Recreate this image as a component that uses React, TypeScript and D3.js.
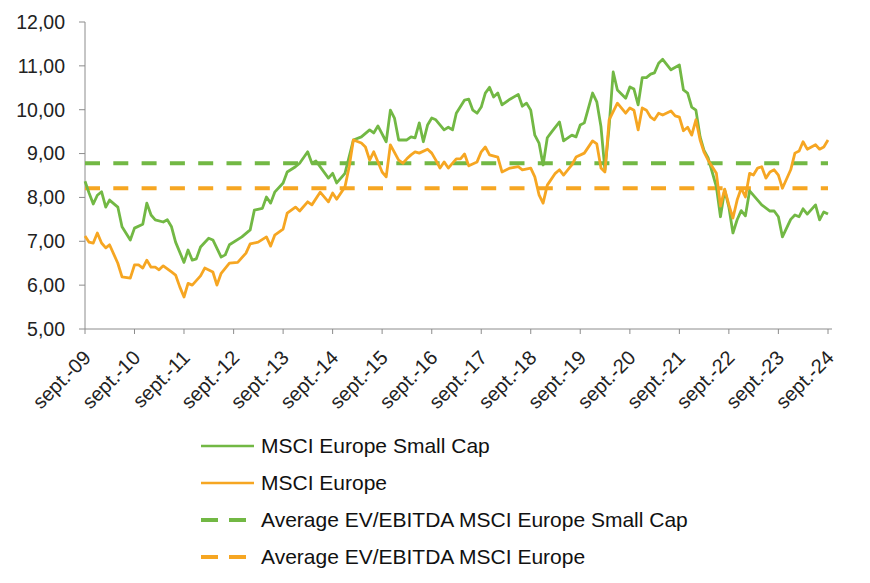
import * as d3 from "d3";

type Point = [string, number];

const smallCap: Point[] = [
  ["2009-09", 8.37], ["2009-10", 8.1], ["2009-11", 7.85], ["2009-12", 8.05],
  ["2010-01", 8.13], ["2010-02", 7.78], ["2010-03", 7.94], ["2010-05", 7.78],
  ["2010-06", 7.33], ["2010-08", 7.03], ["2010-09", 7.3], ["2010-11", 7.39],
  ["2010-12", 7.87], ["2011-01", 7.6], ["2011-02", 7.49], ["2011-04", 7.44],
  ["2011-05", 7.49], ["2011-06", 7.33], ["2011-07", 6.98], ["2011-09", 6.52],
  ["2011-10", 6.8], ["2011-11", 6.57], ["2011-12", 6.6], ["2012-01", 6.87],
  ["2012-03", 7.07], ["2012-04", 7.03], ["2012-06", 6.64], ["2012-07", 6.69],
  ["2012-08", 6.92], ["2012-11", 7.1], ["2013-01", 7.26], ["2013-02", 7.71],
  ["2013-04", 7.75], ["2013-05", 8.01], ["2013-06", 7.87], ["2013-07", 8.12],
  ["2013-09", 8.33], ["2013-10", 8.58], ["2013-12", 8.7], ["2014-01", 8.78],
  ["2014-03", 9.04], ["2014-04", 8.78], ["2014-05", 8.83], ["2014-08", 8.44],
  ["2014-09", 8.55], ["2014-10", 8.33], ["2014-12", 8.55], ["2015-02", 9.31],
  ["2015-04", 9.38], ["2015-06", 9.54], ["2015-07", 9.47], ["2015-08", 9.63],
  ["2015-10", 9.27], ["2015-11", 9.99], ["2015-12", 9.81], ["2016-01", 9.31],
  ["2016-03", 9.31], ["2016-04", 9.38], ["2016-05", 9.36], ["2016-06", 9.7],
  ["2016-07", 9.27], ["2016-08", 9.65], ["2016-09", 9.81], ["2016-10", 9.77],
  ["2016-12", 9.54], ["2017-01", 9.6], ["2017-02", 9.54], ["2017-03", 9.92],
  ["2017-05", 10.22], ["2017-06", 10.24], ["2017-07", 9.99], ["2017-08", 9.92],
  ["2017-09", 10.06], ["2017-10", 10.38], ["2017-11", 10.51], ["2017-12", 10.29],
  ["2018-01", 10.38], ["2018-02", 10.11], ["2018-04", 10.24], ["2018-06", 10.35],
  ["2018-07", 10.08], ["2018-08", 10.15], ["2018-09", 9.99], ["2018-10", 9.42],
  ["2018-11", 9.24], ["2018-12", 8.74], ["2019-01", 9.36], ["2019-02", 9.49],
  ["2019-04", 9.72], ["2019-05", 9.29], ["2019-07", 9.42], ["2019-08", 9.38],
  ["2019-09", 9.65], ["2019-10", 9.7], ["2019-12", 10.38], ["2020-01", 10.18],
  ["2020-02", 9.61], ["2020-03", 8.63], ["2020-04", 9.61], ["2020-05", 10.86],
  ["2020-06", 10.45], ["2020-08", 10.26], ["2020-09", 10.52], ["2020-10", 10.47],
  ["2020-11", 10.11], ["2020-12", 10.73], ["2021-01", 10.73], ["2021-02", 10.81],
  ["2021-03", 10.84], ["2021-04", 11.06], ["2021-05", 11.15], ["2021-07", 10.91],
  ["2021-09", 11.02], ["2021-10", 10.45], ["2021-11", 10.38], ["2021-12", 10.06],
  ["2022-01", 9.99], ["2022-02", 9.38], ["2022-03", 9.08], ["2022-04", 8.9],
  ["2022-05", 8.58], ["2022-06", 8.24], ["2022-07", 7.56], ["2022-08", 8.17],
  ["2022-09", 7.78], ["2022-10", 7.19], ["2022-11", 7.49], ["2022-12", 7.7],
  ["2023-01", 7.58], ["2023-02", 8.15], ["2023-04", 7.94], ["2023-05", 7.83],
  ["2023-07", 7.69], ["2023-08", 7.69], ["2023-09", 7.56], ["2023-10", 7.1],
  ["2023-12", 7.5], ["2024-01", 7.6], ["2024-02", 7.56], ["2024-03", 7.74],
  ["2024-04", 7.62], ["2024-06", 7.83], ["2024-07", 7.49], ["2024-08", 7.67],
  ["2024-09", 7.62],
];

const europe: Point[] = [
  ["2009-09", 7.12], ["2009-10", 6.98], ["2009-11", 6.96], ["2009-12", 7.19],
  ["2010-01", 6.96], ["2010-02", 6.85], ["2010-03", 6.92], ["2010-05", 6.5],
  ["2010-06", 6.19], ["2010-08", 6.16], ["2010-09", 6.46], ["2010-10", 6.46],
  ["2010-11", 6.39], ["2010-12", 6.57], ["2011-01", 6.41], ["2011-02", 6.41],
  ["2011-03", 6.35], ["2011-04", 6.44], ["2011-06", 6.3], ["2011-07", 6.23],
  ["2011-08", 5.96], ["2011-09", 5.73], ["2011-10", 6.04], ["2011-11", 6.0],
  ["2012-01", 6.21], ["2012-02", 6.39], ["2012-04", 6.3], ["2012-05", 6.0],
  ["2012-06", 6.27], ["2012-08", 6.5], ["2012-10", 6.52], ["2012-12", 6.73],
  ["2013-01", 6.94], ["2013-03", 6.98], ["2013-05", 7.1], ["2013-06", 6.89],
  ["2013-07", 7.14], ["2013-09", 7.28], ["2013-10", 7.64], ["2013-12", 7.78],
  ["2014-01", 7.69], ["2014-03", 7.9], ["2014-04", 7.83], ["2014-06", 8.12],
  ["2014-08", 7.9], ["2014-09", 8.1], ["2014-10", 7.96], ["2014-12", 8.24],
  ["2015-01", 8.7], ["2015-02", 9.31], ["2015-04", 9.24], ["2015-05", 9.15],
  ["2015-06", 8.85], ["2015-07", 9.04], ["2015-09", 8.58], ["2015-10", 8.47],
  ["2015-11", 9.2], ["2016-01", 8.85], ["2016-02", 8.78], ["2016-03", 8.88],
  ["2016-04", 8.97], ["2016-05", 9.04], ["2016-06", 9.01], ["2016-08", 9.1],
  ["2016-09", 9.01], ["2016-10", 8.85], ["2016-11", 8.67], ["2016-12", 8.81],
  ["2017-01", 8.67], ["2017-03", 8.88], ["2017-04", 8.88], ["2017-05", 8.99],
  ["2017-06", 8.72], ["2017-08", 8.81], ["2017-09", 9.04], ["2017-10", 9.15],
  ["2017-11", 8.97], ["2018-01", 8.92], ["2018-02", 8.58], ["2018-04", 8.67],
  ["2018-06", 8.7], ["2018-07", 8.63], ["2018-09", 8.67], ["2018-10", 8.47],
  ["2018-11", 8.06], ["2018-12", 7.87], ["2019-01", 8.28], ["2019-03", 8.55],
  ["2019-04", 8.63], ["2019-05", 8.51], ["2019-07", 8.74], ["2019-08", 8.92],
  ["2019-10", 9.01], ["2019-12", 9.29], ["2020-01", 9.22], ["2020-02", 8.67],
  ["2020-03", 8.58], ["2020-04", 9.77], ["2020-06", 10.15], ["2020-08", 9.92],
  ["2020-09", 10.04], ["2020-10", 9.99], ["2020-11", 9.54], ["2020-12", 10.04],
  ["2021-01", 9.99], ["2021-02", 9.83], ["2021-03", 9.77], ["2021-04", 9.92],
  ["2021-05", 9.88], ["2021-07", 9.97], ["2021-08", 9.86], ["2021-09", 9.83],
  ["2021-10", 9.52], ["2021-11", 9.6], ["2021-12", 9.42], ["2022-01", 9.77],
  ["2022-02", 9.31], ["2022-03", 9.04], ["2022-04", 8.85], ["2022-06", 8.55],
  ["2022-07", 7.8], ["2022-08", 8.19], ["2022-09", 7.83], ["2022-10", 7.53],
  ["2022-11", 7.94], ["2022-12", 8.21], ["2023-01", 8.01], ["2023-02", 8.55],
  ["2023-03", 8.51], ["2023-04", 8.67], ["2023-05", 8.7], ["2023-06", 8.44],
  ["2023-07", 8.58], ["2023-08", 8.63], ["2023-09", 8.51], ["2023-10", 8.21],
  ["2023-12", 8.63], ["2024-01", 9.01], ["2024-02", 9.06], ["2024-03", 9.27],
  ["2024-04", 9.1], ["2024-06", 9.2], ["2024-07", 9.1], ["2024-08", 9.15],
  ["2024-09", 9.31],
];

const avgSmallCap = 8.78;
const avgEurope = 8.21;

const yTicks = [5, 6, 7, 8, 9, 10, 11, 12];
const xTickYears = [2009, 2010, 2011, 2012, 2013, 2014, 2015, 2016, 2017, 2018, 2019, 2020, 2021, 2022, 2023, 2024];

const GREEN = "#72b844";
const ORANGE = "#f6a622";
const FONT = "'Liberation Sans', Arial, sans-serif";

const legendItems = [
  { label: "MSCI Europe Small Cap", color: GREEN, dashed: false },
  { label: "MSCI Europe", color: ORANGE, dashed: false },
  { label: "Average EV/EBITDA MSCI Europe Small Cap", color: GREEN, dashed: true },
  { label: "Average EV/EBITDA MSCI Europe", color: ORANGE, dashed: true },
];

export default function App() {
  const width = 870;
  const height = 583;
  const margin = { top: 22, right: 42, bottom: 254, left: 85 };

  const parse = d3.timeParse("%Y-%m");

  const x = d3
    .scaleTime()
    .domain([new Date(2009, 8, 1), new Date(2024, 8, 1)])
    .range([margin.left, width - margin.right]);

  const y = d3
    .scaleLinear()
    .domain([5, 12])
    .range([height - margin.bottom, margin.top]);

  const line = d3
    .line<Point>()
    .x((d) => x(parse(d[0]) as Date))
    .y((d) => y(d[1]));

  const x0 = x.range()[0];
  const x1 = x.range()[1];
  const yBase = y(5);
  const fmt = (v: number) => v.toFixed(2).replace(".", ",");

  return (
    <svg
      width={width}
      height={height}
      style={{ position: "absolute", left: 0, top: 0, background: "#fff" }}
      fontFamily={FONT}
    >
      {/* y axis */}
      <line x1={x0} x2={x0} y1={y(12)} y2={yBase} stroke="#8c8c8c" strokeWidth={1} />
      {yTicks.map((t) => (
        <g key={t}>
          <line x1={x0 - 6} x2={x0} y1={y(t)} y2={y(t)} stroke="#8c8c8c" />
          <text x={x0 - 20} y={y(t)} dy="0.35em" textAnchor="end" fontSize={19.5} fill="#222">
            {fmt(t)}
          </text>
        </g>
      ))}

      {/* x axis */}
      <line x1={x0} x2={x1 + 4} y1={yBase} y2={yBase} stroke="#8c8c8c" />
      {xTickYears.map((yr) => {
        const tx = x(new Date(yr, 8, 1));
        return (
          <g key={yr}>
            <line x1={tx} x2={tx} y1={yBase} y2={yBase + 5} stroke="#8c8c8c" />
            <text
              transform={`translate(${tx + 7},${yBase + 30}) rotate(-45)`}
              textAnchor="end"
              fontSize={20}
              fill="#222"
            >
              {`sept.-${String(yr % 100).padStart(2, "0")}`}
            </text>
          </g>
        );
      })}

      {/* averages */}
      <line x1={x0} x2={x1} y1={y(avgSmallCap)} y2={y(avgSmallCap)} stroke={GREEN} strokeWidth={4} strokeDasharray="15,13.3" />
      <line x1={x0} x2={x1} y1={y(avgEurope)} y2={y(avgEurope)} stroke={ORANGE} strokeWidth={4} strokeDasharray="15,13.3" />

      {/* series */}
      <path d={line(smallCap) ?? undefined} fill="none" stroke={GREEN} strokeWidth={2.8} strokeLinejoin="round" />
      <path d={line(europe) ?? undefined} fill="none" stroke={ORANGE} strokeWidth={2.8} strokeLinejoin="round" />

      {/* legend */}
      {legendItems.map((item, i) => {
        const ly = 446 + i * 37;
        return (
          <g key={item.label}>
            <line
              x1={201}
              x2={254}
              y1={ly}
              y2={ly}
              stroke={item.color}
              strokeWidth={item.dashed ? 4 : 2.6}
              strokeDasharray={item.dashed ? "17,11" : undefined}
            />
            <text x={261} y={ly} dy="0.35em" fontSize={21} fill="#111">
              {item.label}
            </text>
          </g>
        );
      })}
    </svg>
  );
}
